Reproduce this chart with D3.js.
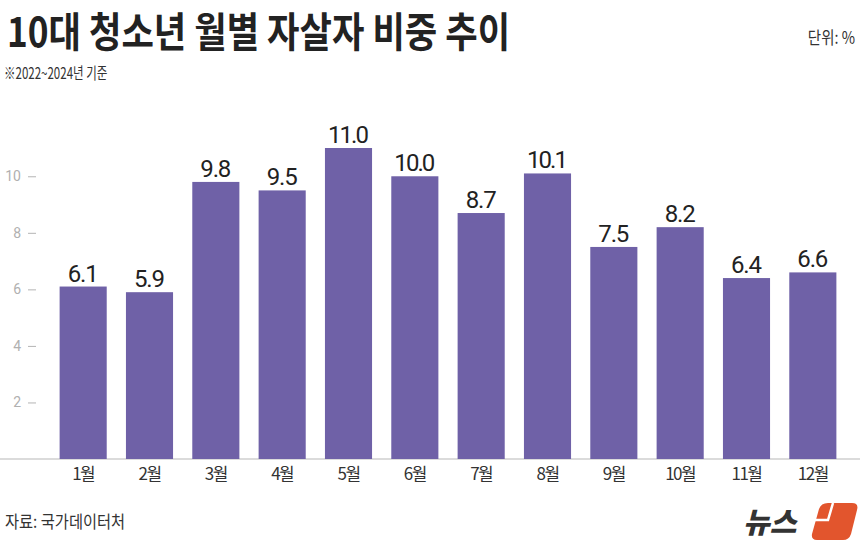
<!DOCTYPE html>
<html>
<head>
<meta charset="utf-8">
<script src="https://cdn.jsdelivr.net/npm/d3@7"></script>
<style>
  body { margin: 0; background: #fff; }
  svg { display: block; }
</style>
</head>
<body>
<div id="chart"></div>
<script>
const months = ['1월', '2월', '3월', '4월', '5월', '6월', '7월', '8월', '9월', '10월', '11월', '12월'];
const shares = [6.1, 5.9, 9.8, 9.5, 11.0, 10.0, 8.7, 10.1, 7.5, 8.2, 6.4, 6.6];
const yTicks = [2, 4, 6, 8, 10];

const W = 860, H = 551;
const font = "'Noto Sans CJK KR', 'Noto Sans', sans-serif";

const svg = d3.select('#chart')
    .append('svg')
    .attr('width', W)
    .attr('height', H);

// scales
const x = d3.scaleBand()
    .domain(months)
    .range([50, 846])
    .paddingInner(0.29)
    .paddingOuter(0.145);

const y = d3.scaleLinear()
    .domain([0, 11])
    .range([459, 148]);

// baseline
svg.append('line')
    .attr('x1', 0).attr('x2', W)
    .attr('y1', y(0)).attr('y2', y(0))
    .attr('stroke', '#cfcfcf')
    .attr('stroke-width', 1.5);

// y axis
const yAxis = svg.append('g')
    .attr('transform', 'translate(36,0)')
    .call(d3.axisLeft(y).tickValues(yTicks).tickSize(8).tickPadding(7));
yAxis.select('.domain').remove();
yAxis.selectAll('line').attr('stroke', '#b5b5b5');
yAxis.selectAll('text')
    .attr('fill', '#b0b0b0')
    .style('font-family', "'Roboto', sans-serif")
    .style('font-size', '14px');

// bars
svg.append('g')
    .selectAll('rect')
    .data(shares)
    .enter()
    .append('rect')
    .attr('x', (d, i) => x(months[i]))
    .attr('y', d => y(d))
    .attr('width', x.bandwidth())
    .attr('height', d => y(0) - y(d))
    .attr('fill', '#6f61a7');

// value labels
svg.append('g')
    .selectAll('text')
    .data(shares)
    .enter()
    .append('text')
    .attr('x', (d, i) => x(months[i]) + x.bandwidth() / 2)
    .attr('y', d => y(d) - 5)
    .attr('text-anchor', 'middle')
    .attr('fill', '#222')
    .style('font-family', "'Roboto', sans-serif")
    .style('font-size', '24px')
    .attr('textLength', d => d < 10 ? 31 : 41)
    .text(d => d.toFixed(1));

// x axis labels
const xAxis = svg.append('g')
    .attr('transform', `translate(0,${y(0)})`)
    .call(d3.axisBottom(x).tickSize(0).tickPadding(9));
xAxis.select('.domain').remove();
xAxis.selectAll('text')
    .attr('fill', '#333')
    .style('font-family', font)
    .style('font-size', '17px')
    .style('letter-spacing', '-1.5px');

// title
svg.append('text')
    .attr('transform', 'translate(7,47) scale(0.86,1)')
    .attr('fill', '#222')
    .style('font-family', font)
    .style('font-weight', 700)
    .style('font-size', '41px')
    .text('10대 청소년 월별 자살자 비중 추이');

svg.append('text')
    .attr('transform', 'translate(4,79) scale(0.72,1)')
    .attr('fill', '#333')
    .style('font-family', font)
    .style('font-size', '16px')
    .text('※2022~2024년 기준');

svg.append('text')
    .attr('transform', 'translate(855,44) scale(0.85,1)')
    .attr('text-anchor', 'end')
    .attr('fill', '#333')
    .style('font-family', font)
    .style('font-size', '17px')
    .text('단위: %');

// source
svg.append('text')
    .attr('transform', 'translate(5,528) scale(0.9,1)')
    .attr('fill', '#333')
    .style('font-family', font)
    .style('font-size', '17px')
    .text('자료: 국가데이터처');

// logo
const logo = svg.append('g');
logo.append('text')
    .attr('x', 743)
    .attr('y', 533)
    .attr('fill', '#333')
    .style('font-family', font)
    .style('font-weight', 900)
    .style('font-style', 'italic')
    .style('font-size', '29px')
    .text('뉴스');
logo.append('path')
    .attr('d', 'M828,503 L852,503 Q859,503 857,510 L851,534 Q849,540 843,540 L817,540 Q811,540 812,534 L819,509 Q821,503 828,503 Z')
    .attr('fill', '#e2552d');
logo.append('path')
    .attr('d', 'M833,503 L828,520 L812,520')
    .attr('fill', 'none')
    .attr('stroke', '#fff')
    .attr('stroke-width', 2.5);
</script>
</body>
</html>
